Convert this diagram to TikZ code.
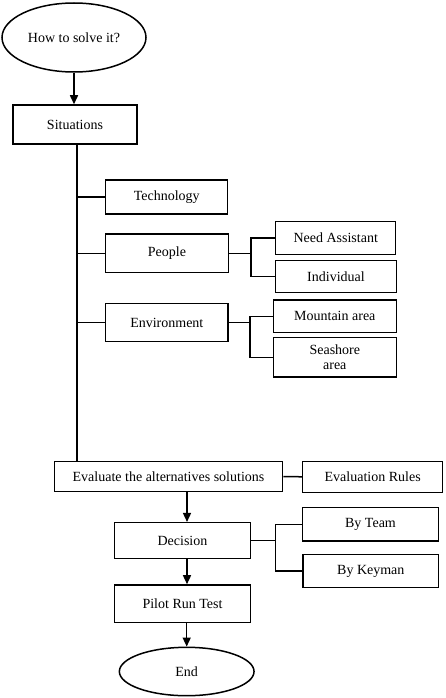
\documentclass[tikz,border=0pt]{standalone}
\usepackage{fontspec}
\setmainfont{Liberation Serif}
\usetikzlibrary{shapes.geometric,arrows.meta}

\tikzset{
  box/.style={draw, rectangle, line width=1.5pt, inner sep=0pt, align=center},
  term/.style={draw, ellipse, line width=1.5pt, inner sep=0pt},
  link/.style={line width=1.5pt},
  flow/.style={line width=1.5pt, -{Triangle[length=9pt,width=8pt]}},
}

\begin{document}
\begin{tikzpicture}[x=1pt,y=1pt,yscale=-1,xscale=1,font=\fontsize{14}{14.5}\selectfont]
        \useasboundingbox (0,0) rectangle (445,698);
        \node [term, minimum width=144, minimum height=69] (how) at (74,37.5) {How to solve it?};
        \node [box, minimum width=124, minimum height=39] (sit) at (75,124.5) {Situations};
        \node [box, minimum width=122, minimum height=34] (tech) at (166.7,197) {Technology};
        \node [box, minimum width=122.6, minimum height=38.7] (people) at (167,253.3) {People};
        \node [box, minimum width=122.3, minimum height=38.4] (env) at (166.8,322.5) {Environment};
        \node [box, minimum width=120, minimum height=32.6] (need) at (335.7,238) {Need Assistant};
        \node [box, minimum width=120.6, minimum height=32] (indiv) at (336,276.7) {Individual};
        \node [box, minimum width=123, minimum height=32.7] (mount) at (334.8,316.3) {Mountain area};
        \node [box, minimum width=123, minimum height=39.3] (sea) at (334.8,357.3) {Seashore\\area};
        \node [box, minimum width=228.4, minimum height=30.4] (eval) at (168.5,476.5) {Evaluate the alternatives solutions};
        \node [box, minimum width=140, minimum height=31] (rules) at (372.7,476.8) {Evaluation Rules};
        \node [box, minimum width=136.4, minimum height=35.6] (dec) at (182.5,540.5) {Decision};
        \node [box, minimum width=135.6, minimum height=33.3] (team) at (370.5,524.3) {By Team};
        \node [box, minimum width=135.7, minimum height=33.4] (keyman) at (370.8,571) {By Keyman};
        \node [box, minimum width=136.4, minimum height=37.7] (pilot) at (182.5,603.8) {Pilot Run Test};
        \node [term, minimum width=134.7, minimum height=48.4] (end) at (186.7,671.5) {End};

        \coordinate (trunk) at (77,144);
        \coordinate (pj) at (251,250);
        \coordinate (ej) at (250,327.7);
        \coordinate (dj) at (275.7,541.7);
        \coordinate (col) at (187,0);

        \draw [flow] (how.south) -- (how.south |- sit.north);
        \draw [link] (trunk) -- (trunk |- eval.north);
        \draw [link] (tech.west) -- (tech.west -| trunk);
        \draw [link] (people.west) -- (people.west -| trunk);
        \draw [link] (env.west) -- (env.west -| trunk);
        \draw [link] (people.east) -- (people.east -| pj);
        \draw [link] (need.west) -| (pj) |- (indiv.west);
        \draw [link] (env.east) -- (env.east -| ej);
        \draw [link] (mount.west) -| (ej) |- (sea.west);
        \draw [link] (eval.east) -- (rules.west);
        \draw [link] (dec.east) -- (dec.east -| dj);
        \draw [link] (team.west) -| (dj) |- (keyman.west);
        \draw [flow] (eval.south -| col) -- (dec.north -| col);
        \draw [flow] (dec.south -| col) -- (pilot.north -| col);
        \draw [flow] (pilot.south -| end.north) -- (end.north);
\end{tikzpicture}
\end{document}
